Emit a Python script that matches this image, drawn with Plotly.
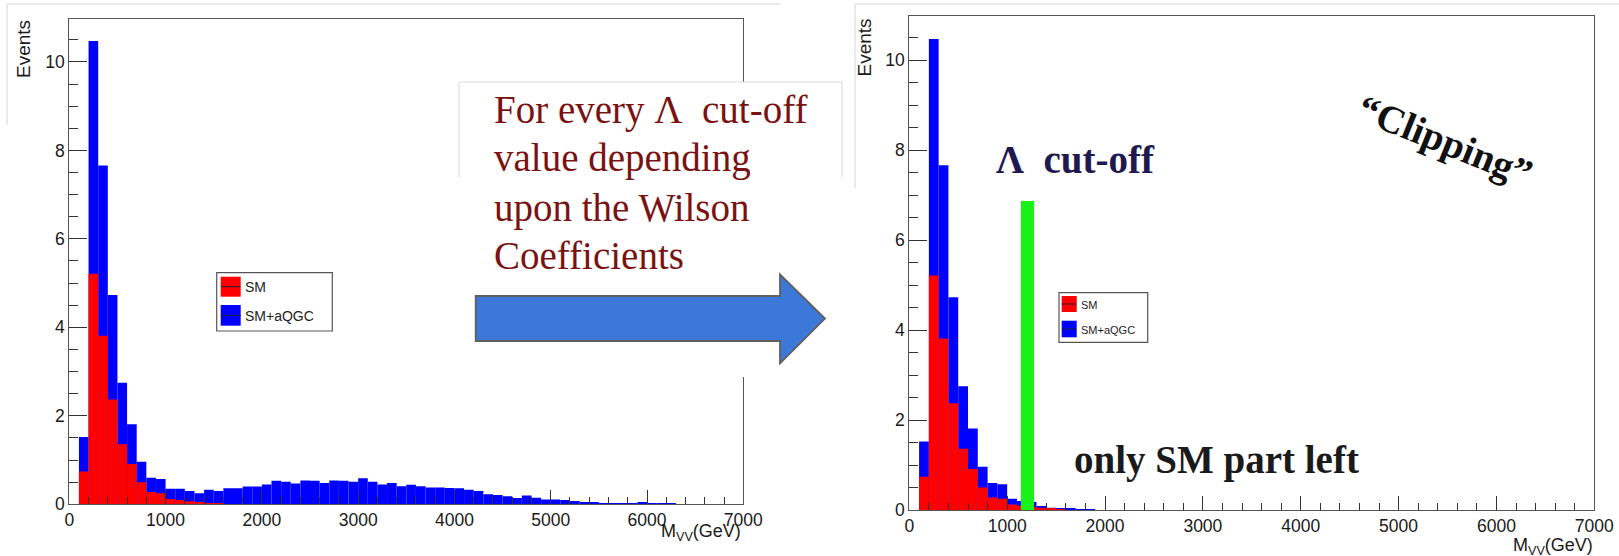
import plotly.graph_objects as go

W, H = 1619, 556

# Histogram binning (GeV): 100 GeV bins starting at 100 GeV
bin_width = 100
bin_start = 100

# SM+aQGC, full spectrum
total_events = [1.52, 10.47, 7.66, 4.73, 2.75, 1.81, 0.96, 0.60, 0.57, 0.35,
                0.35, 0.30, 0.25, 0.33, 0.30, 0.36, 0.36, 0.40, 0.40, 0.45,
                0.53, 0.51, 0.47, 0.54, 0.53, 0.48, 0.54, 0.53, 0.51, 0.59,
                0.51, 0.45, 0.48, 0.41, 0.44, 0.41, 0.38, 0.38, 0.37, 0.36,
                0.33, 0.30, 0.23, 0.21, 0.18, 0.14, 0.20, 0.15, 0.11, 0.11,
                0.10, 0.075, 0.05, 0.05, 0.03, 0.03, 0.03, 0.02, 0.05, 0.03,
                0.02, 0.015]

# SM only
sm_events = [0.74, 5.21, 3.81, 2.37, 1.36, 0.91, 0.50, 0.28, 0.25, 0.12,
             0.10, 0.07, 0.05, 0.03, 0.01]

# SM+aQGC after clipping at the cut-off
clipped_events = [1.52, 10.47, 7.66, 4.73, 2.75, 1.81, 0.96, 0.60, 0.57, 0.25,
                  0.20, 0.18, 0.09, 0.05, 0.04, 0.03, 0.02, 0.015]

# Cut-off band (GeV) and its drawn height (events)
cutoff_band = [1140, 1275]
cutoff_height = [-0.13, 6.87]

x_ticks = [0, 1000, 2000, 3000, 4000, 5000, 6000, 7000]
y_ticks = [0, 2, 4, 6, 8, 10]

legend_labels = ["SM", "SM+aQGC"]
BLUE, RED, GREEN = "#0000ff", "#ff0000", "#19f219"


def centers(values):
    return [bin_start + bin_width * (i + 0.5) for i in range(len(values))]


def px(x):
    return x / W


def py(y):
    return 1 - y / H


fig = go.Figure()

for vals, col, ax in [(total_events, BLUE, ("x", "y")),
                      (sm_events, RED, ("x", "y")),
                      (clipped_events, BLUE, ("x2", "y2")),
                      (sm_events, RED, ("x2", "y2"))]:
    fig.add_trace(go.Bar(
        x=centers(vals), y=vals, width=bin_width,
        marker=dict(color=col, line=dict(width=0)),
        xaxis=ax[0], yaxis=ax[1], showlegend=False, hoverinfo="skip"))

axis_common = dict(showline=True, linecolor="#555555", linewidth=1.2, mirror=True,
                   showgrid=False, zeroline=False, automargin=False,
                   ticks="inside", tickcolor="#333333", tickwidth=1,
                   tickfont=dict(family="Liberation Sans", size=17.5, color="#1a1a1a"))

xcommon = dict(axis_common, range=[0, 7000], tickvals=x_ticks, ticklen=14,
               minor=dict(ticks="inside", dtick=200, tick0=0, ticklen=7,
                          tickcolor="#333333", tickwidth=1, showgrid=False))
ycommon = dict(axis_common, tickvals=y_ticks, ticklen=18,
               minor=dict(ticks="inside", dtick=0.5, tick0=0, ticklen=9,
                          tickcolor="#333333", tickwidth=1, showgrid=False))

fig.update_layout(
    width=W, height=H, margin=dict(l=0, r=0, t=0, b=0, autoexpand=False),
    paper_bgcolor="white", plot_bgcolor="white", barmode="overlay",
    xaxis=dict(xcommon, domain=[px(69.3), px(743.3)], anchor="y"),
    yaxis=dict(ycommon, domain=[py(504.3), py(19)], range=[0, 10.97], anchor="x"),
    xaxis2=dict(xcommon, domain=[px(909.3), px(1594.3)], anchor="y2"),
    yaxis2=dict(ycommon, domain=[py(510), py(16)], range=[0, 10.98], anchor="x2"),
)

shapes = []
annotations = []

# canvas outlines
for x0, y0, x1, y1 in [(7, 4, 780, 4), (7, 4, 7, 125), (855, 4, 1619, 4), (855, 4, 855, 188)]:
    shapes.append(dict(type="line", xref="paper", yref="paper", x0=px(x0), y0=py(y0),
                       x1=px(x1), y1=py(y1), line=dict(color="#e3e3e3", width=1.5)))

# text panel
shapes.append(dict(type="rect", xref="paper", yref="paper", x0=px(459), y0=py(82),
                   x1=px(842), y1=py(377), fillcolor="white", line=dict(width=0), layer="above"))
for x0, y0, x1, y1 in [(459, 82, 842, 82), (459, 82, 459, 177), (842, 82, 842, 177)]:
    shapes.append(dict(type="line", xref="paper", yref="paper", x0=px(x0), y0=py(y0),
                       x1=px(x1), y1=py(y1), line=dict(color="#dddddd", width=1.2), layer="above"))

# block arrow
arrow_pts = [(475.7, 296), (780, 296), (780, 274.3), (825, 318.5), (780, 363.3), (780, 341), (475.7, 341)]
path = "M " + " L ".join(f"{px(x):.5f},{py(y):.5f}" for x, y in arrow_pts) + " Z"
shapes.append(dict(type="path", xref="paper", yref="paper", path=path, fillcolor="#3c78d8",
                   line=dict(color="#5f5f5f", width=1.8), layer="above"))

# cut-off band
shapes.append(dict(type="rect", xref="x2", yref="y2", x0=cutoff_band[0], x1=cutoff_band[1],
                   y0=cutoff_height[0], y1=cutoff_height[1], fillcolor=GREEN,
                   line=dict(width=0), layer="above"))


def add_legend(box, sq_x, rows, text_x, fsize):
    x0, y0, x1, y1 = box
    shapes.append(dict(type="rect", xref="paper", yref="paper", x0=px(x0), y0=py(y0),
                       x1=px(x1), y1=py(y1), fillcolor="white",
                       line=dict(color="#555555", width=1.2), layer="above"))
    for (ya, yb, yt), col, lab in zip(rows, [RED, BLUE], legend_labels):
        shapes.append(dict(type="rect", xref="paper", yref="paper", x0=px(sq_x[0]), y0=py(ya),
                           x1=px(sq_x[1]), y1=py(yb), fillcolor=col, line=dict(width=0),
                           layer="above"))
        ym = (ya + yb) / 2
        shapes.append(dict(type="line", xref="paper", yref="paper", x0=px(sq_x[0]), y0=py(ym),
                           x1=px(sq_x[1]), y1=py(ym), line=dict(color="#202040", width=1),
                           layer="above"))
        annotations.append(dict(xref="paper", yref="paper", x=px(text_x), y=py(yt), text=lab,
                                showarrow=False, xanchor="left", yanchor="middle",
                                font=dict(family="Liberation Sans", size=fsize, color="#222222")))


add_legend((216.7, 272.7, 332.3, 331), (220.7, 240.7),
           [(276.7, 296.7, 287), (305, 325.7, 316)], 243, 14)
add_legend((1059, 292.7, 1147.7, 342.3), (1061.7, 1076.7),
           [(296, 312, 305), (320.7, 337.3, 330)], 1079, 11)

# axis titles
for x, y in [(23, 18), (864, 16.5)]:
    annotations.append(dict(xref="paper", yref="paper", x=px(x), y=py(y), text="Events",
                            textangle=-90, showarrow=False, xanchor="center", yanchor="top",
                            font=dict(family="Liberation Sans", size=19, color="#1a1a1a")))
for x, y in [(743, 532), (1595, 546)]:
    annotations.append(dict(xref="paper", yref="paper", x=px(x), y=py(y),
                            text="M<sub>VV</sub>(GeV)", showarrow=False,
                            xanchor="right", yanchor="middle",
                            font=dict(family="Liberation Sans", size=18, color="#1a1a1a")))

# slide text
serif = "Liberation Serif"
for line, base in zip(["For every Λ\u00a0 cut-off", "value depending", "upon the Wilson",
                       "Coefficients"], [123.3, 170.7, 220.7, 268.3]):
    annotations.append(dict(xref="paper", yref="paper", x=px(492), y=py(base - 13),
                            text=line, showarrow=False, xanchor="left", yanchor="middle",
                            font=dict(family=serif, size=39, color="#7a1212")))

annotations.append(dict(xref="paper", yref="paper", x=px(994), y=py(172 - 13),
                        text="<b>Λ\u00a0 cut-off</b>", showarrow=False, xanchor="left",
                        yanchor="middle", font=dict(family=serif, size=39, color="#1e1a50")))
annotations.append(dict(xref="paper", yref="paper", x=px(1072), y=py(473 - 13),
                        text="<b>only SM part left</b>", showarrow=False, xanchor="left",
                        yanchor="middle", font=dict(family=serif, size=39, color="#1a1a1a")))
annotations.append(dict(xref="paper", yref="paper", x=px(1445), y=py(141),
                        text="<b>\u201cClipping\u201d</b>", showarrow=False, textangle=22,
                        xanchor="center", yanchor="middle",
                        font=dict(family=serif, size=39, color="#111111")))

fig.update_layout(shapes=shapes, annotations=annotations)
fig.write_html("out.html")
